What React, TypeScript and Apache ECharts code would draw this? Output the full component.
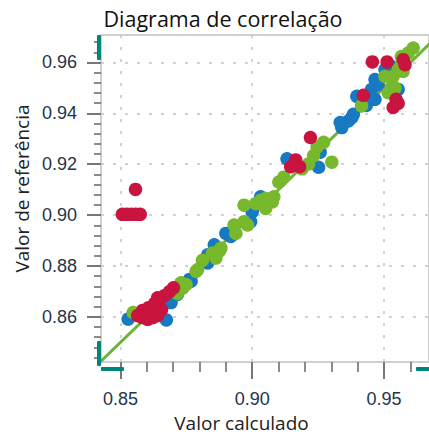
import React, { useEffect, useRef } from "react";
import * as echarts from "echarts";

const titleText = "Diagrama de correlação";
const xName = "Valor calculado";
const yName = "Valor de referência";

const xTicks = [0.85, 0.9, 0.95];
const yTicks = [0.86, 0.88, 0.9, 0.92, 0.94, 0.96];
const xRange = [0.8426, 0.9671];
const yRange = [0.8422, 0.9708];
const identityLine = [0.84, 0.98];

const bluePoints: [number, number][] = [
  [0.8529, 0.8591], [0.8674, 0.8588], [0.8692, 0.8656], [0.8716, 0.8688],
  [0.8762, 0.8747], [0.8768, 0.874], [0.8831, 0.8812], [0.8831, 0.8844],
  [0.8856, 0.8883], [0.89, 0.8928], [0.8919, 0.8916], [0.8994, 0.8974],
  [0.9, 0.9013], [0.9032, 0.9072], [0.9132, 0.9221], [0.9258, 0.9247],
  [0.9252, 0.9188], [0.934, 0.9344], [0.9334, 0.9364], [0.9365, 0.937],
  [0.9384, 0.9396], [0.9378, 0.9383], [0.9397, 0.9467], [0.9447, 0.9467],
  [0.9466, 0.9455], [0.9453, 0.9494], [0.9466, 0.9533], [0.9478, 0.9513],
  [0.9554, 0.9494], [0.9504, 0.9572], [0.9529, 0.9584], [0.9433, 0.9431],
];

const greenPoints: [number, number][] = [
  [0.8548, 0.8617], [0.873, 0.8734], [0.8749, 0.8727], [0.8716, 0.8692],
  [0.8736, 0.8713], [0.8787, 0.8779], [0.8811, 0.8822], [0.8793, 0.8786],
  [0.8849, 0.8851], [0.8862, 0.8831], [0.8881, 0.887], [0.8875, 0.8858],
  [0.8938, 0.8928], [0.8931, 0.8961], [0.8969, 0.8974], [0.8982, 0.8961],
  [0.8969, 0.9039], [0.9013, 0.9045], [0.9051, 0.9026], [0.9032, 0.9058],
  [0.9076, 0.9052], [0.9051, 0.9065], [0.9082, 0.9072], [0.9101, 0.913],
  [0.912, 0.9149], [0.9189, 0.9182], [0.9214, 0.9201], [0.9233, 0.9234],
  [0.9246, 0.9267], [0.9271, 0.9286], [0.9302, 0.9208], [0.9415, 0.9429],
  [0.9504, 0.9545], [0.9535, 0.9545], [0.9529, 0.9494], [0.9516, 0.9481],
  [0.9542, 0.95], [0.9554, 0.9572], [0.9573, 0.9565], [0.9592, 0.9637],
  [0.9566, 0.9623], [0.9566, 0.9591], [0.9611, 0.9657],
];

const redPoints: [number, number][] = [
  [0.8507, 0.9003], [0.8524, 0.9003], [0.8541, 0.9003], [0.8558, 0.9003],
  [0.8575, 0.9003], [0.8557, 0.9101],
  [0.8565, 0.8605], [0.8584, 0.8597], [0.8603, 0.859], [0.8622, 0.8597],
  [0.8641, 0.8605], [0.8584, 0.8625], [0.8607, 0.8636], [0.8629, 0.8652],
  [0.8648, 0.8667], [0.8667, 0.8683], [0.8686, 0.8699], [0.8701, 0.8714],
  [0.8656, 0.8628], [0.8633, 0.862], [0.8611, 0.8613], [0.8641, 0.8675],
  [0.9422, 0.9471], [0.9456, 0.9602], [0.9512, 0.9602], [0.9573, 0.9611],
  [0.958, 0.9591], [0.9546, 0.9455], [0.9535, 0.9423], [0.9554, 0.9439],
  [0.9221, 0.9305], [0.9165, 0.9217], [0.9146, 0.919], [0.918, 0.919],
];

const colors = { blue: "#1679c2", green: "#77b82c", red: "#c8143f", line: "#6db33a" };
const teal = "#00857a";
const labelFont = "'Liberation Sans', Arial, sans-serif";
const textFont = "'Open Sans', 'Noto Sans', sans-serif";

export default function App() {
  const ref = useRef<HTMLDivElement>(null);
  useEffect(() => {
    if (!ref.current) return;
    const chart = echarts.init(ref.current, undefined, { renderer: "svg" });
    const fmt = (v: number) => v.toFixed(2);
    const scatter = (name: string, data: [number, number][], color: string) => ({
      name,
      type: "scatter",
      data,
      symbolSize: 13.5,
      itemStyle: { color, opacity: 1 },
      clip: true,
    });
    chart.setOption({
      animation: false,
      backgroundColor: "#ffffff",
      title: {
        text: titleText,
        left: 218,
        textAlign: "center",
        top: 2,
        textStyle: { fontFamily: textFont, fontSize: 21.5, fontWeight: "normal", color: "#111" },
      },
      grid: {
        left: 101,
        top: 35,
        right: -2,
        bottom: 72,
        show: true,
        borderColor: "#cfcfcf",
        borderWidth: 2,
      },
      xAxis: {
        type: "value",
        min: xRange[0],
        max: xRange[1],
        splitNumber: 3,
        name: xName,
        nameLocation: "middle",
        nameGap: 47,
        nameTextStyle: { fontFamily: textFont, fontSize: 19, color: "#222", padding: [0, 47, 0, 0] },
        axisLine: { show: true, lineStyle: { color: "#cfcfcf", width: 2 } },
        axisTick: { show: true, length: 17, customValues: xTicks, lineStyle: { color: "#777", width: 2 } },
        minorTick: { show: true, splitNumber: 5, length: 10, lineStyle: { color: "#666", width: 1.5 } },
        axisLabel: {
          customValues: xTicks,
          formatter: fmt,
          margin: 28,
          fontFamily: labelFont,
          fontSize: 18,
          color: "#25344a",
        },
        splitLine: { show: true, lineStyle: { color: "#c4c4c4", type: [3, 9], width: 1.5 } },
      },
      yAxis: {
        type: "value",
        min: yRange[0],
        max: yRange[1],
        splitNumber: 6,
        name: yName,
        nameLocation: "middle",
        nameGap: 65,
        nameTextStyle: { fontFamily: textFont, fontSize: 19, color: "#222", padding: [0, 0, 0, 20] },
        axisLine: { show: true, lineStyle: { color: "#cfcfcf", width: 2 } },
        axisTick: { show: true, length: 14, customValues: yTicks, lineStyle: { color: "#777", width: 2 } },
        minorTick: { show: true, splitNumber: 5, length: 7, lineStyle: { color: "#666", width: 1.5 } },
        axisLabel: {
          customValues: yTicks,
          formatter: fmt,
          margin: 24,
          fontFamily: labelFont,
          fontSize: 18,
          color: "#25344a",
        },
        splitLine: { show: true, lineStyle: { color: "#c4c4c4", type: [3, 9], width: 1.5 } },
      },
      series: [
        {
          name: "Identidade",
          type: "line",
          data: [
            [identityLine[0], identityLine[0]],
            [identityLine[1], identityLine[1]],
          ],
          symbol: "none",
          lineStyle: { color: colors.line, width: 3 },
          clip: true,
          z: 1,
        },
        scatter("Azul", bluePoints, colors.blue),
        scatter("Verde", greenPoints, colors.green),
        scatter("Vermelho", redPoints, colors.red),
      ],
      graphic: [
        { type: "rect", shape: { x: 97, y: 35, width: 4, height: 25, r: 1 }, style: { fill: teal }, z: 100 },
        { type: "rect", shape: { x: 97, y: 341, width: 4, height: 25, r: 1 }, style: { fill: teal }, z: 100 },
        { type: "rect", shape: { x: 101, y: 367, width: 23, height: 4, r: 1 }, style: { fill: teal }, z: 100 },
        { type: "rect", shape: { x: 416, y: 367, width: 14, height: 4, r: 1 }, style: { fill: teal }, z: 100 },
      ],
    });
    return () => chart.dispose();
  }, []);
  return (
    <div
      ref={ref}
      style={{ position: "fixed", left: 0, top: 0, width: 429, height: 437 }}
    />
  );
}
